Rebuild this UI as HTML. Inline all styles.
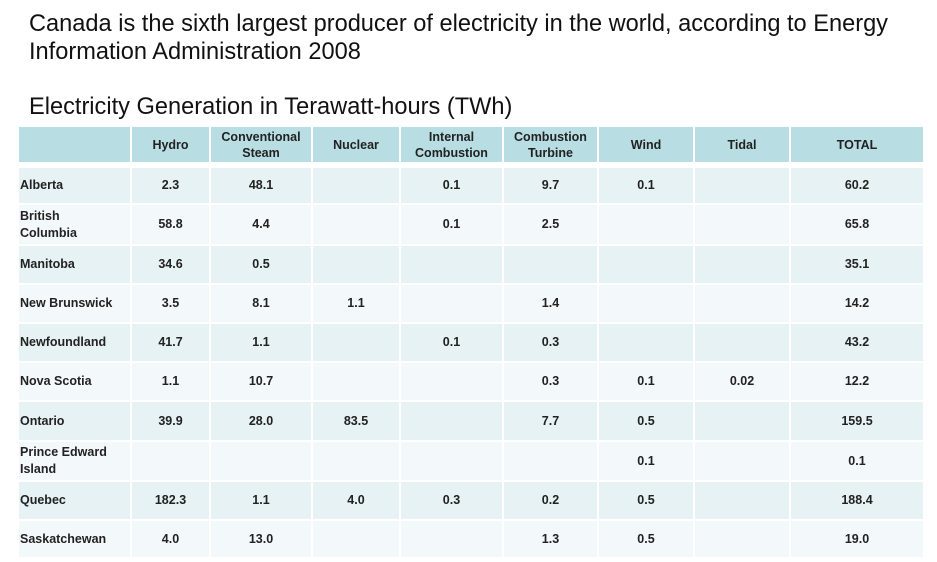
<!DOCTYPE html>
<html><head><meta charset="utf-8">
<style>
body{margin:0;width:937px;height:562px;background:#fff;font-family:"Liberation Sans",sans-serif;position:relative;overflow:hidden}
.t1{position:absolute;left:29px;top:10px;font-size:23.6px;line-height:28px;color:#111}
.t2{position:absolute;left:29px;top:94px;font-size:23.6px;color:#111}
table{position:absolute;left:17px;top:125px;border-collapse:collapse;table-layout:fixed}
td{border:2px solid #fff;font-size:12.5px;font-weight:bold;color:#222;text-align:center;padding:0;line-height:17px}
thead td{background:#b8dde2;height:35px;line-height:16px}
td.lab{text-align:left;padding-left:1px}
tr.a td{background:#e7f2f4}
tr.b td{background:#f3f8fa}
tr.gap td{height:0;border:0;background:#fff;padding:0}
</style></head><body>
<div class="t1">Canada is the sixth largest producer of electricity in the world, according to Energy<br>Information Administration 2008</div>
<div class="t2">Electricity Generation in Terawatt-hours (TWh)</div>
<table id="tbl">
<colgroup><col style="width:113px"><col style="width:79px"><col style="width:102px"><col style="width:88px"><col style="width:103px"><col style="width:95px"><col style="width:96px"><col style="width:96px"><col style="width:134px"></colgroup>
<thead><tr><td></td><td>Hydro</td><td>Conventional<br>Steam</td><td>Nuclear</td><td>Internal<br>Combustion</td><td>Combustion<br>Turbine</td><td>Wind</td><td>Tidal</td><td>TOTAL</td></tr></thead>
<tbody id="tb"></tbody>
</table>
<script>
const provinces=["Alberta","British<br>Columbia","Manitoba","New Brunswick","Newfoundland","Nova Scotia","Ontario","Prince Edward<br>Island","Quebec","Saskatchewan"];
const hydro=["2.3","58.8","34.6","3.5","41.7","1.1","39.9","","182.3","4.0"];
const steam=["48.1","4.4","0.5","8.1","1.1","10.7","28.0","","1.1","13.0"];
const nuclear=["","","","1.1","","","83.5","","4.0",""];
const internal=["0.1","0.1","","","0.1","","","","0.3",""];
const turbine=["9.7","2.5","","1.4","0.3","0.3","7.7","","0.2","1.3"];
const wind=["0.1","","","","","0.1","0.5","0.1","0.5","0.5"];
const tidal=["","","","","","0.02","","","",""];
const total=["60.2","65.8","35.1","14.2","43.2","12.2","159.5","0.1","188.4","19.0"];
const heights=[37,41,39,39,39,39,40,40,39,38];
const tb=document.getElementById('tb');
const g=document.createElement('tr');g.className='gap';


g.innerHTML='<td colspan="9" style="height:2px"></td>';tb.appendChild(g);
provinces.forEach((p,i)=>{
  const tr=document.createElement('tr');
  tr.className=i%2?'b':'a';
  
  
  const vals=[hydro[i],steam[i],nuclear[i],internal[i],turbine[i],wind[i],tidal[i],total[i]];
  let h='<td class="lab" style="height:'+(heights[i]-2)+'px">'+p+'</td>';
  vals.forEach(v=>h+='<td>'+v+'</td>');
  tr.innerHTML=h;tb.appendChild(tr);
});
</script>
</body></html>
